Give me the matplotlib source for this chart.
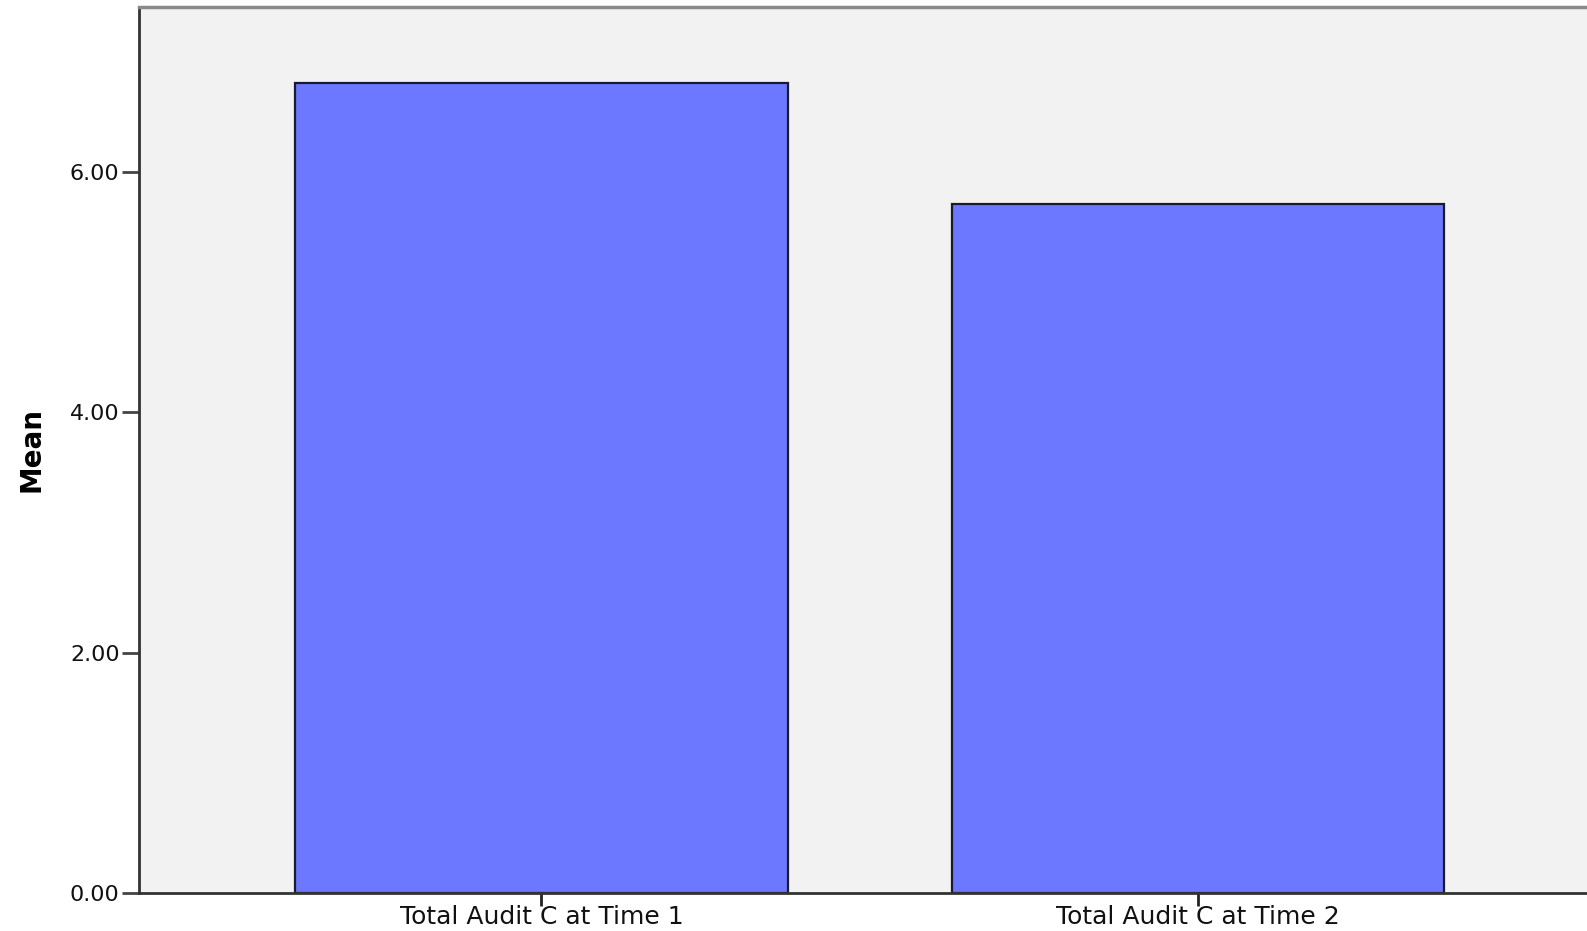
import numpy as np
import matplotlib
matplotlib.use('Agg')
import matplotlib.pyplot as plt

# Data
categories = ['Total Audit C at Time 1', 'Total Audit C at Time 2']
means = [6.74, 5.73]
yticks = [0.0, 2.0, 4.0, 6.0]

fig = plt.figure(figsize=(15.87, 9.31), dpi=100)
ax = fig.add_axes([139/1587, 38/931, 1 - 139/1587, (893-7)/931])
ax.set_facecolor('#f2f2f2')

x = np.arange(len(categories))
ax.bar(x, means, width=0.75, color='#6b78ff', edgecolor='#1a1a2e', linewidth=1.6)

ax.set_xlim(-0.613, 1.593)
ax.set_ylim(0, 7.37)

ax.set_yticks(yticks)
ax.set_yticklabels(['%.2f' % v for v in yticks], fontsize=16, color='#111111')
ax.set_xticks(x)
ax.set_xticklabels(categories, fontsize=18, color='#111111')
ax.tick_params(axis='y', length=12, width=2, color='#444444', pad=2)
ax.tick_params(axis='x', length=9, width=2, color='#222222', pad=0)

ax.set_ylabel('Mean', fontsize=20, fontweight='bold',
              family=['Liberation Sans Narrow', 'DejaVu Sans'])
ax.yaxis.set_label_coords(-(139 - 46) / (1587 - 139), 0.5)

for s in ['left', 'bottom']:
    ax.spines[s].set_color('#333333')
    ax.spines[s].set_linewidth(2)
ax.spines['top'].set_color('#8a8a8a')
ax.spines['top'].set_linewidth(2.5)
ax.spines['right'].set_visible(False)

fig.savefig('out.png', dpi=100)
